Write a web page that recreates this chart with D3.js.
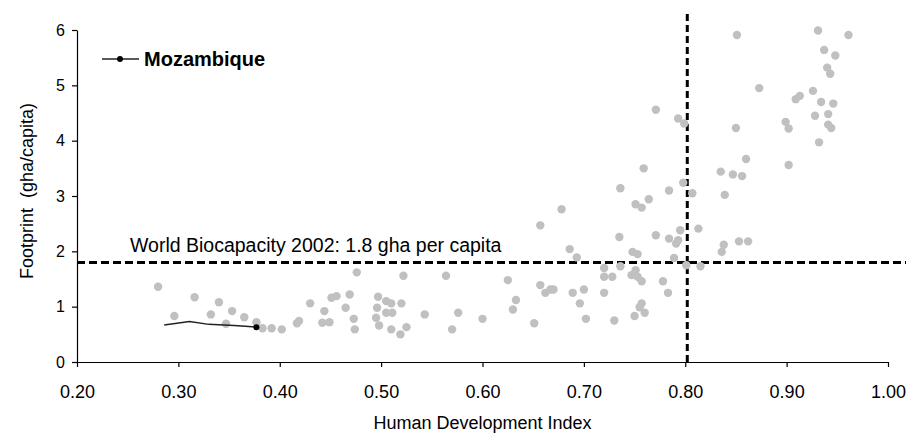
<!DOCTYPE html>
<html>
<head>
<meta charset="utf-8">
<script src="https://cdn.jsdelivr.net/npm/d3@7"></script>
<style>
  body { margin: 0; background: #fff; }
  svg { display: block; font-family: Arial, "Liberation Sans", sans-serif; }
</style>
</head>
<body>
<svg id="chart"></svg>
<script>
// countries: HDI vs ecological footprint (gha/capita)
const hdi = [
  0.280, 0.296, 0.316, 0.332, 0.340, 0.347, 0.353, 0.365, 0.377, 0.383,
  0.392, 0.402, 0.417, 0.419, 0.430, 0.442, 0.449, 0.444, 0.451, 0.456,
  0.469, 0.465, 0.473, 0.474, 0.476, 0.497, 0.496, 0.495, 0.498, 0.505,
  0.510, 0.505, 0.511, 0.520, 0.510, 0.519, 0.525, 0.522, 0.543, 0.564,
  0.570, 0.576, 0.600, 0.625, 0.633, 0.630, 0.651, 0.657, 0.662, 0.667,
  0.670, 0.686, 0.693, 0.689, 0.700, 0.696, 0.702, 0.678, 0.657, 0.759,
  0.736, 0.751, 0.757, 0.764, 0.784, 0.798, 0.807, 0.835, 0.847, 0.856,
  0.860, 0.902, 0.839, 0.735, 0.771, 0.784, 0.791, 0.793, 0.795, 0.813,
  0.838, 0.836, 0.853, 0.862, 0.748, 0.753, 0.789, 0.801, 0.815, 0.720,
  0.736, 0.720, 0.728, 0.747, 0.751, 0.753, 0.757, 0.778, 0.720, 0.783,
  0.757, 0.755, 0.760, 0.750, 0.730, 0.931, 0.961, 0.937, 0.948, 0.940,
  0.943, 0.926, 0.909, 0.913, 0.934, 0.946, 0.928, 0.941, 0.899, 0.902,
  0.941, 0.944, 0.932, 0.851, 0.873, 0.771, 0.793, 0.799, 0.850
];
const footprint = [
  1.36, 0.83, 1.17, 0.86, 1.08, 0.69, 0.92, 0.81, 0.72, 0.61,
  0.61, 0.59, 0.70, 0.74, 1.06, 0.71, 0.72, 0.92, 1.16, 1.19,
  1.22, 0.98, 0.78, 0.59, 1.62, 1.18, 0.98, 0.80, 0.66, 1.10,
  1.06, 0.89, 0.89, 1.06, 0.59, 0.50, 0.63, 1.56, 0.86, 1.56,
  0.59, 0.89, 0.78, 1.48, 1.12, 0.95, 0.70, 1.39, 1.25, 1.31,
  1.31, 2.04, 1.89, 1.25, 1.31, 1.06, 0.78, 2.76, 2.47, 3.50,
  3.14, 2.85, 2.79, 2.94, 3.10, 3.24, 3.05, 3.44, 3.39, 3.36,
  3.67, 3.56, 3.02, 2.26, 2.29, 2.23, 2.14, 2.20, 2.38, 2.41,
  2.12, 1.99, 2.18, 2.18, 1.99, 1.95, 1.88, 1.75, 1.73, 1.70,
  1.73, 1.54, 1.54, 1.57, 1.66, 1.54, 1.46, 1.46, 1.25, 1.25,
  1.06, 0.99, 0.89, 0.83, 0.75, 5.99, 5.91, 5.64, 5.54, 5.32,
  5.21, 4.90, 4.75, 4.81, 4.70, 4.67, 4.45, 4.48, 4.34, 4.22,
  4.29, 4.23, 3.97, 5.91, 4.95, 4.56, 4.40, 4.31, 4.23
];

// Mozambique trajectory
const mozHdi = [0.286, 0.311, 0.330, 0.355, 0.377];
const mozFootprint = [0.67, 0.73, 0.68, 0.66, 0.63];

const xTicks = [0.2, 0.3, 0.4, 0.5, 0.6, 0.7, 0.8, 0.9, 1.0];
const yTicks = [0, 1, 2, 3, 4, 5, 6];
const worldBiocapacity = 1.8;
const hdiThreshold = 0.802;

const width = 909;
const height = 435;
const svg = d3.select("#chart").attr("width", width).attr("height", height);

const x = d3.scaleLinear().domain([0.2, 1.0]).range([77, 888]);
const y = d3.scaleLinear().domain([0, 6]).range([362, 30]);

// axes
const xAxis = svg.append("g")
  .attr("transform", `translate(0,${y(0)})`)
  .call(d3.axisBottom(x).tickValues(xTicks).tickFormat(d3.format(".2f")).tickSize(5).tickSizeOuter(0).tickPadding(18));
xAxis.selectAll("text").style("font-size", "18px").style("fill", "#000");

const yAxis = svg.append("g")
  .attr("transform", `translate(${x(0.2)},0)`)
  .call(d3.axisLeft(y).tickValues(yTicks).tickFormat(d3.format("d")).tickSize(5).tickSizeOuter(0).tickPadding(7));
yAxis.selectAll("text").style("font-size", "16px").style("fill", "#000");

svg.selectAll(".domain, .tick line").attr("stroke", "#000").attr("stroke-width", 1.2);

// axis titles
svg.append("text")
  .attr("x", (x.range()[0] + x.range()[1]) / 2)
  .attr("y", 429)
  .attr("text-anchor", "middle")
  .style("font-size", "18px")
  .text("Human Development Index");

svg.append("text")
  .attr("transform", "rotate(-90)")
  .attr("x", -191)
  .attr("y", 33)
  .attr("text-anchor", "middle")
  .style("font-size", "18px")
  .style("white-space", "pre")
  .text("Footprint  (gha/capita)");

// reference lines
svg.append("line")
  .attr("x1", x(0.2)).attr("x2", 906)
  .attr("y1", y(worldBiocapacity)).attr("y2", y(worldBiocapacity))
  .attr("stroke", "#000").attr("stroke-width", 3).attr("stroke-dasharray", "8,4");

svg.append("line")
  .attr("x1", x(hdiThreshold)).attr("x2", x(hdiThreshold))
  .attr("y1", 14).attr("y2", y(0))
  .attr("stroke", "#000").attr("stroke-width", 3).attr("stroke-dasharray", "7,4");

svg.append("text")
  .attr("x", 130)
  .attr("y", 252)
  .style("font-size", "19.5px")
  .text("World Biocapacity 2002: 1.8 gha per capita");

// countries
svg.append("g")
  .selectAll("circle")
  .data(hdi.map((h, i) => ({ h, f: footprint[i] })))
  .enter()
  .append("circle")
  .attr("cx", (d) => x(d.h))
  .attr("cy", (d) => y(d.f))
  .attr("r", 4.2)
  .attr("fill", "#c0c0c0");

// Mozambique
const moz = mozHdi.map((h, i) => ({ h, f: mozFootprint[i] }));
svg.append("path")
  .datum(moz)
  .attr("fill", "none")
  .attr("stroke", "#222")
  .attr("stroke-width", 1.5)
  .attr("d", d3.line().x((d) => x(d.h)).y((d) => y(d.f)));

svg.append("circle")
  .attr("cx", x(moz[moz.length - 1].h))
  .attr("cy", y(moz[moz.length - 1].f))
  .attr("r", 3)
  .attr("fill", "#000");

// legend
const legend = svg.append("g").attr("transform", "translate(102,59)");
legend.append("line").attr("x1", 0).attr("x2", 37).attr("stroke", "#222").attr("stroke-width", 1.5);
legend.append("circle").attr("cx", 18).attr("r", 3).attr("fill", "#000");
legend.append("text")
  .attr("x", 42)
  .attr("y", 7)
  .style("font-size", "20px")
  .style("font-weight", "bold")
  .text("Mozambique");
</script>
</body>
</html>
